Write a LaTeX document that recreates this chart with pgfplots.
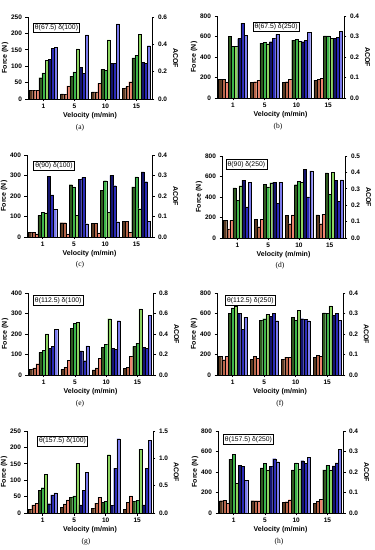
\documentclass[border=0pt]{standalone}
\usepackage{pgfplots}
\usepackage{pgfplotstable}
\pgfplotsset{compat=1.18}
\usepackage{fontspec}
\setmainfont{Liberation Sans}
\newfontfamily\capfont{Liberation Serif}

\definecolor{cBa}{HTML}{5A3A22}
\definecolor{cBb}{HTML}{B8664A}
\definecolor{cBc}{HTML}{EE8470}
\definecolor{cGa}{HTML}{2F5A1F}
\definecolor{cGb}{HTML}{3DB54A}
\definecolor{cGc}{HTML}{8CD460}
\definecolor{cUa}{HTML}{14146E}
\definecolor{cUb}{HTML}{2B2BB8}
\definecolor{cUc}{HTML}{7B7BEE}

% x: group index (0=1, 1=5, 2=10, 3=15 m/min); b,g: force (N); u: ACOF
\pgfplotstableread{
x b1 b2 b3 g1 g2 g3 u1 u2 u3
0 27 27 27 65 80 118 0.29 0.37 0.38
1 16 14 40 70 83 153 0.23 0.19 0.47
2 22 22 48 90 88 180 0.26 0.26 0.55
3 33 38 53 125 133 197 0.27 0.26 0.39
}\tA
\pgfplotstableread{
x b1 b2 b3 g1 g2 g3 u1 u2 u3
0 180 180 158 600 505 505 0.29 0.365 0.305
1 155 160 170 535 545 530 0.275 0.29 0.31
2 155 160 185 565 570 555 0.275 0.28 0.32
3 175 180 195 605 605 580 0.29 0.295 0.325
}\tB
\pgfplotstableread{
x b1 b2 b3 g1 g2 g3 u1 u2 u3
0 22 22 15 105 120 118 0.295 0.205 0.135
1 70 70 15 255 245 105 0.28 0.29 0.065
2 68 68 20 228 275 120 0.30 0.25 0.075
3 77 77 22 245 293 138 0.318 0.27 0.078
}\tC
\pgfplotstableread{
x b1 b2 b3 g1 g2 g3 u1 u2 u3
0 170 90 170 490 370 510 0.353 0.19 0.34
1 180 110 185 525 500 540 0.34 0.21 0.34
2 220 140 225 520 555 545 0.42 0.25 0.41
3 225 140 230 635 425 640 0.35 0.225 0.355
}\tD
\pgfplotstableread{
x b1 b2 b3 g1 g2 g3 u1 u2 u3
0 28 35 55 110 120 200 0.26 0.28 0.445
1 28 38 72 228 252 258 0.235 0.14 0.285
2 25 35 80 135 150 275 0.26 0.25 0.53
3 32 38 92 140 155 322 0.27 0.26 0.58
}\tE
\pgfplotstableread{
x b1 b2 b3 g1 g2 g3 u1 u2 u3
0 180 150 185 600 655 675 0.30 0.2225 0.2825
1 155 180 165 535 550 590 0.2875 0.30 0.265
2 155 175 170 565 535 630 0.275 0.2725 0.265
3 175 195 180 605 600 675 0.29 0.30 0.2675
}\tF
\pgfplotstableread{
x b1 b2 b3 g1 g2 g3 u1 u2 u3
0 12 25 30 70 77 118 0.17 0.33 0.37
1 18 28 40 48 52 152 0.15 0.42 0.75
2 15 30 48 33 36 178 0.14 0.82 1.36
3 12 32 52 35 38 195 0.15 0.82 1.33
}\tG
\pgfplotstableread{
x b1 b2 b3 g1 g2 g3 u1 u2 u3
0 120 125 95 525 570 290 0.2325 0.2275 0.16
1 120 120 120 440 485 420 0.2275 0.265 0.25
2 105 110 130 420 490 430 0.255 0.2425 0.2725
3 95 115 135 420 465 420 0.23 0.245 0.31
}\tH

\newcommand{\fbars}[1]{%
  \addplot[ybar, fill=cBa, bar shift=-0.4] table[x=x,y=b1]{#1};
  \addplot[ybar, fill=cBb, bar shift=-0.3] table[x=x,y=b2]{#1};
  \addplot[ybar, fill=cBc, bar shift=-0.2] table[x=x,y=b3]{#1};
  \addplot[ybar, fill=cGa, bar shift=-0.1] table[x=x,y=g1]{#1};
  \addplot[ybar, fill=cGb, bar shift=0] table[x=x,y=g2]{#1};
  \addplot[ybar, fill=cGc, bar shift=0.1] table[x=x,y=g3]{#1};
}
\newcommand{\ubars}[1]{%
  \addplot[ybar, fill=cUa, bar shift=0.2] table[x=x,y=u1]{#1};
  \addplot[ybar, fill=cUb, bar shift=0.3] table[x=x,y=u2]{#1};
  \addplot[ybar, fill=cUc, bar shift=0.4] table[x=x,y=u3]{#1};
}

\tikzset{
  leg/.style={draw=black, line width=0.6pt, fill=white, inner sep=1.7pt,
    font=\fontsize{6.8}{7.8}\selectfont, anchor=north west},
}
\pgfplotsset{
  common/.style={scale only axis, height=82pt, xmin=-0.5, xmax=3.5, ymin=0,
    anchor=south west,
    axis line style={line width=0.7pt, black},
    tick align=outside, major tick length=2.5pt,
    tick style={line width=0.6pt, black},
    tick label style={font=\fontsize{6.5}{7.5}\selectfont\bfseries},
    label style={font=\fontsize{7}{8}\selectfont\bfseries},
    /pgf/number format/assume math mode=true,
    bar width=0.1,
    every axis plot/.append style={draw=black, line width=0.2pt},
  },
  fbase/.style={common,
    axis x line*=bottom, axis y line*=left,
    xtick={0,1,2,3}, xticklabels={1,5,10,15},
    xlabel={Velocity (m/min)}, ylabel={Force (N)},
    xlabel style={yshift=3.5pt}, ylabel style={yshift=-4pt},
    xticklabel style={yshift=1pt},
  },
  rbase/.style={common,
    axis x line=none, axis y line*=right,
    ylabel={ACOF}, ylabel style={rotate=180, yshift=-1pt},
    yticklabel style={/pgf/number format/.cd, fixed, fixed zerofill, precision=1},
  },
}

\begin{document}
\begin{tikzpicture}
\useasboundingbox (0pt,0pt) rectangle (375pt,550pt);

% (a)
\begin{axis}[fbase, at={(28pt,451pt)}, width=124pt, ymax=250, ytick={0,50,100,150,200,250}]
\fbars{\tA}
\node[leg] at (rel axis cs:0.04,0.93) {θ(67.5) δ(100)};
\end{axis}
\begin{axis}[rbase, at={(28pt,451pt)}, width=124pt, ymax=0.6, ytick={0,0.2,0.4,0.6}]
\ubars{\tA}
\end{axis}

% (b)
\begin{axis}[fbase, at={(217pt,452pt)}, width=127pt, ymax=800, ytick={0,200,400,600,800}]
\fbars{\tB}
\node[leg] at (rel axis cs:0.28,0.93) {θ(67.5) δ(250)};
\end{axis}
\begin{axis}[rbase, at={(217pt,452pt)}, width=127pt, ymax=0.4, ytick={0,0.1,0.2,0.3,0.4}]
\ubars{\tB}
\end{axis}

% (c)
\begin{axis}[fbase, at={(27pt,313pt)}, width=125pt, ymax=400, ytick={0,100,200,300,400}]
\fbars{\tC}
\node[leg] at (rel axis cs:0.05,0.93) {θ(90) δ(100)};
\end{axis}
\begin{axis}[rbase, at={(27pt,313pt)}, width=125pt, ymax=0.4, ytick={0,0.1,0.2,0.3,0.4}]
\ubars{\tC}
\end{axis}

% (d)
\begin{axis}[fbase, at={(222pt,312pt)}, width=123pt, ymax=800, ytick={0,200,400,600,800}]
\fbars{\tD}
\node[leg] at (rel axis cs:0.03,0.96) {θ(90) δ(250)};
\end{axis}
\begin{axis}[rbase, at={(222pt,312pt)}, width=123pt, ymax=0.5, ytick={0,0.1,0.2,0.3,0.4,0.5}]
\ubars{\tD}
\end{axis}

% (e)
\begin{axis}[fbase, at={(28pt,175pt)}, width=125pt, ymax=400, ytick={0,100,200,300,400}]
\fbars{\tE}
\node[leg] at (rel axis cs:0.04,0.97) {θ(112.5) δ(100)};
\end{axis}
\begin{axis}[rbase, at={(28pt,175pt)}, width=125pt, ymax=0.8, ytick={0,0.2,0.4,0.6,0.8}]
\ubars{\tE}
\end{axis}

% (f)
\begin{axis}[fbase, at={(217pt,175pt)}, width=126pt, ymax=800, ytick={0,200,400,600,800}]
\fbars{\tF}
\node[leg] at (rel axis cs:0.065,0.97) {θ(112.5) δ(250)};
\end{axis}
\begin{axis}[rbase, at={(217pt,175pt)}, width=126pt, ymax=0.4, ytick={0,0.1,0.2,0.3,0.4}]
\ubars{\tF}
\end{axis}

% (g)
\begin{axis}[fbase, at={(27pt,37pt)}, width=126pt, ymax=250, ytick={0,50,100,150,200,250}]
\fbars{\tG}
\node[leg] at (rel axis cs:0.08,0.94) {θ(157.5) δ(100)};
\end{axis}
\begin{axis}[rbase, at={(27pt,37pt)}, width=126pt, ymax=1.5, ytick={0,0.5,1.0,1.5}]
\ubars{\tG}
\end{axis}

% (h)
\begin{axis}[fbase, at={(218pt,37pt)}, width=125pt, ymax=800, ytick={0,200,400,600,800}]
\fbars{\tH}
\node[leg] at (rel axis cs:0.04,0.96) {θ(157.5) δ(250)};
\end{axis}
\begin{axis}[rbase, at={(218pt,37pt)}, width=125pt, ymax=0.4, ytick={0,0.1,0.2,0.3,0.4}]
\ubars{\tH}
\end{axis}

% sub-figure captions
\begin{scope}[every node/.style={font=\capfont\fontsize{7.5}{8.5}\selectfont}]
\node at (80pt,422pt) {(a)};
\node at (278pt,423pt) {(b)};
\node at (80pt,285pt) {(c)};
\node at (280pt,284pt) {(d)};
\node at (80pt,146pt) {(e)};
\node at (280pt,146pt) {(f)};
\node at (86pt,8pt) {(g)};
\node at (279pt,8pt) {(h)};
\end{scope}
\end{tikzpicture}
\end{document}
